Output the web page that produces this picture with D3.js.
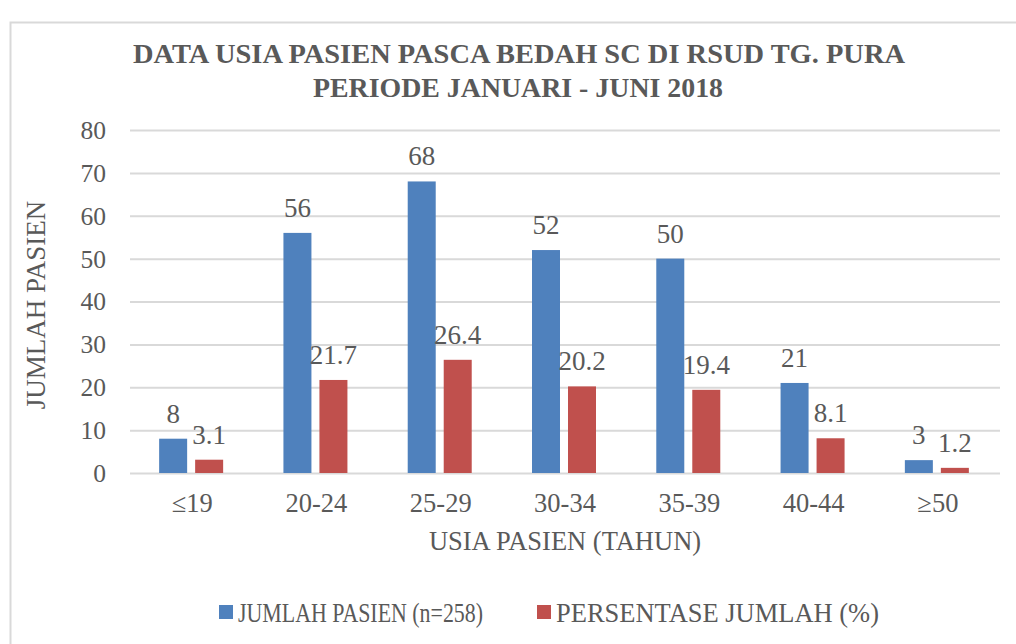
<!DOCTYPE html>
<html><head><meta charset="utf-8">
<script src="https://cdn.jsdelivr.net/npm/d3@7"></script>
<style>body{margin:0;background:#fff}svg{display:block}svg text{font-family:"Liberation Serif","Times New Roman",Times,"DejaVu Serif",serif !important;fill:#595959}</style>
</head><body>
<script>
const categories = ["≤19","20-24","25-29","30-34","35-39","40-44","≥50"];
const jumlahPasien = [8,56,68,52,50,21,3];
const persentase = [3.1,21.7,26.4,20.2,19.4,8.1,1.2];
const yTicks = [0,10,20,30,40,50,60,70,80];
const seriesNames = ["JUMLAH PASIEN (n=258)","PERSENTASE JUMLAH (%)"];
const colors = ["#4F81BD","#C0504D"];

const W=1016,H=644;
const svg=d3.select("body").append("svg").attr("width",W).attr("height",H);
svg.append("rect").attr("x",10.5).attr("y",22.5).attr("width",1010).attr("height",640).attr("fill","#fff").attr("stroke","#d9d9d9").attr("stroke-width",2);

const x=d3.scaleBand().domain(categories).range([130,1000]);
const y=d3.scaleLinear().domain([0,80]).range([473,130]);

// title
svg.append("text").attr("x",519).attr("y",63).attr("text-anchor","middle").attr("font-weight","bold").attr("font-size",28).attr("textLength",772).attr("lengthAdjust","spacingAndGlyphs").text("DATA USIA PASIEN PASCA BEDAH SC DI RSUD TG. PURA");
svg.append("text").attr("x",518).attr("y",97).attr("text-anchor","middle").attr("font-weight","bold").attr("font-size",28).attr("textLength",410).attr("lengthAdjust","spacingAndGlyphs").text("PERIODE JANUARI - JUNI 2018");

// grid
const yAxis=d3.axisLeft(y).tickValues(yTicks).tickSize(-(1000-130)).tickPadding(24).tickFormat(d3.format("d"));
const gy=svg.append("g").attr("transform","translate(130,0)").call(yAxis).attr("font-family",null);
gy.select(".domain").remove();
gy.selectAll("line").attr("stroke","#d9d9d9").attr("stroke-width",2);
gy.selectAll("text").attr("font-size",25.5).attr("fill","#595959").attr("dy","0.33em");

// x axis labels
const xAxis=d3.axisBottom(x).tickSize(0).tickPadding(20);
const gx=svg.append("g").attr("transform","translate(0,473)").call(xAxis).attr("font-family",null);
gx.select(".domain").remove();
gx.selectAll("text").attr("font-size",26.5).attr("fill","#595959");

const bw=28, gap=8;
const groups=[jumlahPasien,persentase];
groups.forEach((vals,si)=>{
  const off = si===0 ? -(bw+gap/2)-1 : gap/2-1;
  svg.append("g").selectAll("rect").data(vals).join("rect")
    .attr("x",(d,i)=>x(categories[i])+x.bandwidth()/2+off)
    .attr("y",d=>y(d)).attr("width",bw).attr("height",d=>y(0)-y(d))
    .attr("fill",colors[si]);
  svg.append("g").selectAll("text").data(vals).join("text")
    .attr("x",(d,i)=>x(categories[i])+x.bandwidth()/2+off+bw/2)
    .attr("y",d=>y(d)-16).attr("text-anchor","middle").attr("font-size",27).text(d=>d);
});

// axis titles
svg.append("text").attr("transform","translate(45,305) rotate(-90)").attr("text-anchor","middle").attr("font-size",27).text("JUMLAH PASIEN");
svg.append("text").attr("x",565).attr("y",550).attr("text-anchor","middle").attr("font-size",26.5).text("USIA PASIEN (TAHUN)");

// legend
const legX=[219,537];
const legLen=[245,323];
seriesNames.forEach((n,i)=>{
  svg.append("rect").attr("x",legX[i]).attr("y",605).attr("width",14).attr("height",14).attr("fill",colors[i]);
  svg.append("text").attr("x",legX[i]+19).attr("y",622).attr("font-size",26.5)
    .attr("textLength",legLen[i]).attr("lengthAdjust","spacingAndGlyphs").text(n);
});
</script>
</body></html>
